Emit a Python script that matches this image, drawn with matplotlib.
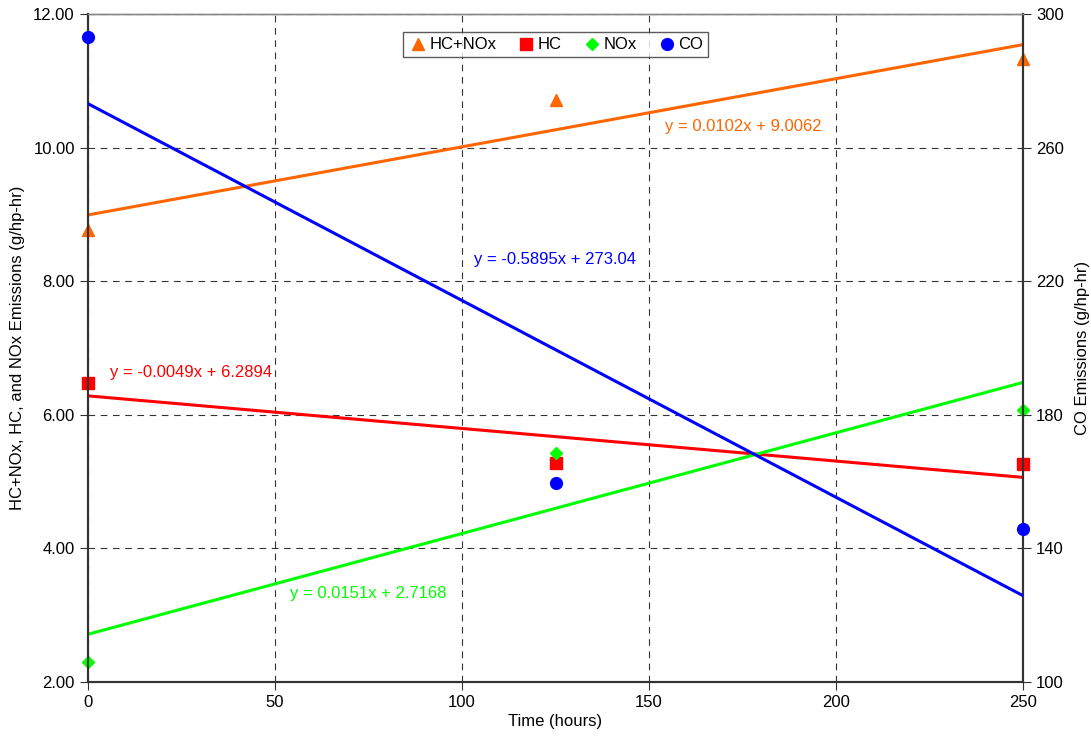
import numpy as np
import matplotlib.pyplot as plt

plt.rcParams['font.family'] = ['Liberation Sans', 'DejaVu Sans']

# data
hours = np.array([0, 125, 250])
hc_nox = np.array([8.77, 10.71, 11.32])
hc = np.array([6.48, 5.28, 5.26])
nox = np.array([2.30, 5.43, 6.07])
co = np.array([293.1, 159.6, 145.8])

c_hcnox = '#FF6600'
c_hc = '#FF0000'
c_nox = '#00FF00'
c_co = '#0000FF'

fig = plt.figure(figsize=(10.91, 7.47), dpi=100)
ax = fig.add_axes([88/1091, 1-682/747, 935/1091, 668/747])
ax2 = ax.twinx()

xx = np.array([0, 250])
# trend lines (linear fits)
for y, c in [(hc_nox, c_hcnox), (hc, c_hc), (nox, c_nox)]:
    p = np.polyfit(hours, y, 1)
    ax.plot(xx, np.polyval(p, xx), color=c, lw=2.2, zorder=3)
p = np.polyfit(hours, co, 1)
ax2.plot(xx, np.polyval(p, xx), color=c_co, lw=2.2, zorder=3)

h1, = ax.plot(hours, hc_nox, '^', color=c_hcnox, ms=8, ls='none', clip_on=False, zorder=4)
h2, = ax.plot(hours, hc, 's', color=c_hc, ms=8, ls='none', clip_on=False, zorder=4)
h3, = ax.plot(hours, nox, 'D', color=c_nox, ms=6.5, ls='none', clip_on=False, zorder=4)
h4, = ax2.plot(hours, co, 'o', color=c_co, ms=8.5, ls='none', clip_on=False, zorder=4)

# equation labels
fs = 12
ax.text(154.3, 10.31, 'y = 0.0102x + 9.0062', color=c_hcnox, fontsize=fs, va='center')
ax.text(103.2, 8.32, 'y = -0.5895x + 273.04', color=c_co, fontsize=fs, va='center')
ax.text(5.9, 6.63, 'y = -0.0049x + 6.2894', color=c_hc, fontsize=fs, va='center')
ax.text(54.0, 3.32, 'y = 0.0151x + 2.7168', color=c_nox, fontsize=fs, va='center')

ax.set_xlim(0, 250)
ax.set_ylim(2, 12)
ax2.set_ylim(100, 300)
ax.set_xticks([0, 50, 100, 150, 200, 250])
ax.set_yticks([2, 4, 6, 8, 10, 12])
ax.set_yticklabels(['%.2f' % v for v in [2, 4, 6, 8, 10, 12]])
ax2.set_yticks([100, 140, 180, 220, 260, 300])

ax.grid(True, color='#333333', ls=(0, (6, 5)), lw=0.8)
for a in (ax, ax2):
    a.tick_params(labelsize=fs, direction='out', length=6, color='#333333')
    for s in a.spines.values():
        s.set_color('#333333')
        s.set_linewidth(1.5)
    a.spines['top'].set_color('#888888')
    a.spines['top'].set_linewidth(1)

ax.set_xlabel('Time (hours)', fontsize=fs, labelpad=3)
ax.set_ylabel('HC+NOx, HC, and NOx Emissions (g/hp-hr)', fontsize=fs, labelpad=6)
ax2.set_ylabel('CO Emissions (g/hp-hr)', fontsize=fs, labelpad=8)

leg = ax.legend([h1, h2, h3, h4], ['HC+NOx', 'HC', 'NOx', 'CO'], loc='upper center',
                bbox_to_anchor=(0.5, 0.985), ncol=4, fontsize=fs, frameon=True,
                fancybox=False, edgecolor='#333333', handletextpad=0.1,
                columnspacing=1.2, handlelength=1.2, borderpad=0.3)
leg.get_frame().set_linewidth(1)

fig.savefig('out.png', dpi=100)
